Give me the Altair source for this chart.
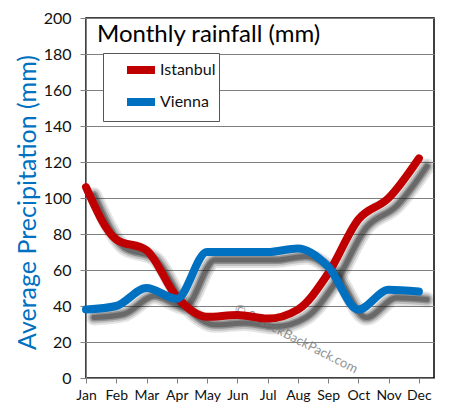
import altair as alt
import pandas as pd

months = ["Jan", "Feb", "Mar", "Apr", "May", "Jun", "Jul", "Aug", "Sep", "Oct", "Nov", "Dec"]
istanbul = [106, 77, 71, 45, 34, 35, 33, 38, 58, 88, 100, 122]
vienna = [38, 40, 50, 44, 70, 70, 70, 72, 62, 38, 49, 48]
series_names = ["Istanbul", "Vienna"]
series_colors = ["#C00000", "#0070C0"]
title_text = "Monthly rainfall (mm)"
y_title = "Average Precipitation (mm)"
watermark = "© 2WeekBackPack.com"

rows = []
for i, m in enumerate(months):
    rows.append({"idx": i, "month": m, "city": "Istanbul", "value": istanbul[i]})
    rows.append({"idx": i, "month": m, "city": "Vienna", "value": vienna[i]})
df = pd.DataFrame(rows)

FONT = "Lato"
W, H = 348, 360

xscale = alt.Scale(domain=[0, 11.5], nice=False, zero=False)
yscale = alt.Scale(domain=[0, 200], nice=False)

label_expr = "[" + ",".join(f"'{m}'" for m in months) + "][datum.value]"

x_enc = alt.X("idx:Q", scale=xscale,
              axis=alt.Axis(values=list(range(12)), labelExpr=label_expr, title=None,
                            grid=False, tickSize=5, tickColor="#808080", domainColor="#808080",
                            labelFontSize=14, labelFont=FONT, labelColor="#111", labelPadding=5,
                            labelBaseline="top", labelOverlap=False, labelBound=False,
                            labelFlush=False))
y_enc = alt.Y("value:Q", scale=yscale,
              axis=alt.Axis(values=list(range(0, 201, 20)), title=y_title, grid=True,
                            gridColor="#808080", gridWidth=1, tickSize=6, tickColor="#808080",
                            domainColor="#808080", labelFontSize=16, labelFont=FONT,
                            labelColor="#111", labelPadding=9, labelOverlap=False,
                            labelFlush=False, labelBound=False,
                            titleFont=FONT, titleFontSize=25, titleFontWeight="normal",
                            titleColor="#0070C0", titleX=-59, titleY=184, titleAngle=-90,
                            titleAlign="center", titleBaseline="middle"))

base = alt.Chart(df)

shadows = []
for w, op in [(16, 0.12), (12, 0.18), (8, 0.3), (5, 0.35)]:
    shadows.append(
        base.mark_line(interpolate="monotone", color="#222", strokeWidth=w, opacity=op,
                       xOffset=8, yOffset=8, strokeCap="round", strokeJoin="round")
        .encode(x=x_enc, y=y_enc, detail="city:N")
    )

lines = base.mark_line(interpolate="monotone", strokeWidth=8, strokeCap="round",
                       strokeJoin="round").encode(
    x=x_enc, y=y_enc,
    color=alt.Color("city:N",
                    scale=alt.Scale(domain=series_names, range=series_colors),
                    legend=alt.Legend(orient="none", legendX=17, legendY=35, title=None,
                                      strokeColor="#555", padding=3,
                                      symbolType="M-1.4,0H1.4",
                                      symbolSize=400, symbolStrokeWidth=8, symbolOffset=21,
                                      labelFontSize=16, labelFont=FONT, labelColor="#111",
                                      labelOffset=5, rowPadding=0, fillColor="white"))
)

title = alt.Chart(pd.DataFrame({"t": [title_text]})).mark_text(
    align="left", baseline="alphabetic", fontSize=24, font=FONT, color="black"
).encode(x=alt.value(11), y=alt.value(24), text="t:N")

wm = alt.Chart(pd.DataFrame({"t": [watermark]})).mark_text(
    align="center", baseline="middle", fontSize=13, font=FONT, color="#777",
    angle=27, opacity=0.8
).encode(x=alt.value(210), y=alt.value(321), text="t:N")

chart = alt.layer(*shadows, wm, lines, title).properties(
    width=W, height=H,
    background="white",
    autosize=alt.AutoSizeParams(type="none"),
    padding={"left": 78, "top": 10, "right": 12, "bottom": 33},
).configure_view(stroke="black", strokeWidth=1.5)

chart.save("out.html", embed_options={"renderer": "svg", "actions": False})
